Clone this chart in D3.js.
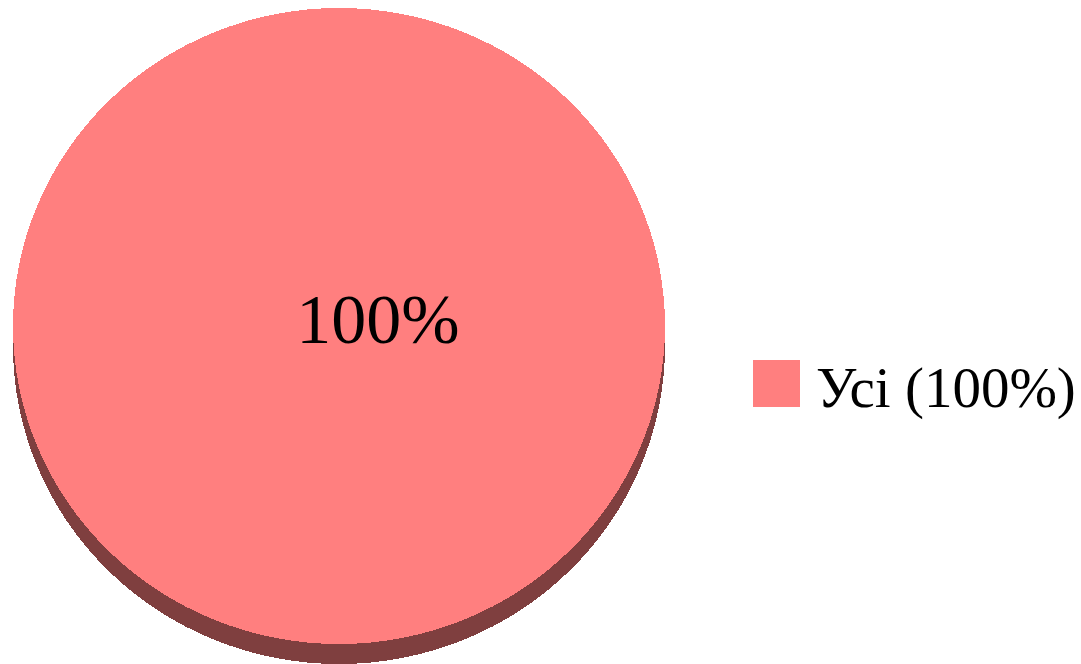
<!DOCTYPE html>
<html>
<head>
<meta charset="utf-8">
<script src="https://cdn.jsdelivr.net/npm/d3@7"></script>
<style>
    html, body { margin: 0; padding: 0; background: #fff; }
    svg { display: block; }
</style>
</head>
<body>
<div class="content"></div>
<script>
(function (window) {
    'use strict';
    var categories = ["Усі"],
        values = [100],
        colors = ["#ff7f7f"],
        sideColors = ["#7f3f3f"];

    var width = 1081, height = 664,
        opts = {
            cx: 339,
            cy: 326,
            rx: 326,
            ry: 318,
            depth: 20,
            font: "'Liberation Serif', 'Times New Roman', serif"
        };

    var total = d3.sum(values);
    var data = categories.map(function (c, i) {
        return {name: c, value: values[i], idx: i};
    });

    var svg = d3.select(".content").append("svg")
        .attr("width", width)
        .attr("height", height);

    var pie = d3.pie().value(function (d) { return d.value; }).sort(null);
    var arc = d3.arc().innerRadius(0).outerRadius(opts.rx);
    var slices = pie(data);
    var sy = opts.ry / opts.rx;

    // side of the disc, drawn first
    svg.append("g")
        .attr("transform", "translate(" + [opts.cx, opts.cy + opts.depth] + ") scale(1," + sy + ")")
        .selectAll("path")
        .data(slices)
        .enter().append("path")
        .attr("d", arc)
        .attr("fill", function (d) { return sideColors[d.data.idx]; })
        .attr("shape-rendering", "crispEdges");

    // top face
    svg.append("g")
        .attr("transform", "translate(" + [opts.cx, opts.cy] + ") scale(1," + sy + ")")
        .selectAll("path")
        .data(slices)
        .enter().append("path")
        .attr("d", arc)
        .attr("fill", function (d) { return colors[d.data.idx]; })
        .attr("shape-rendering", "crispEdges");

    // slice label
    var fmt = function (v) { return Math.round(v / total * 100) + "%"; };
    svg.selectAll("text.lbl")
        .data(slices)
        .enter().append("text")
        .attr("class", "lbl")
        .attr("x", opts.cx + 39)
        .attr("y", 343)
        .attr("text-anchor", "middle")
        .attr("font-family", opts.font)
        .attr("font-size", 70)
        .attr("fill", "#000")
        .text(function (d) { return fmt(d.data.value); });

    // legend
    var legend = svg.selectAll("g.legend")
        .data(data)
        .enter().append("g")
        .attr("class", "legend")
        .attr("transform", function (d, i) { return "translate(" + [753, 360 + i * 60] + ")"; });
    legend.append("rect")
        .attr("width", 47)
        .attr("height", 47)
        .attr("fill", function (d) { return colors[d.idx]; });
    legend.append("text")
        .attr("x", 63)
        .attr("y", 47)
        .attr("font-family", opts.font)
        .attr("font-size", 57)
        .attr("fill", "#000")
        .text(function (d) { return d.name + " (" + fmt(d.value) + ")"; });
}(window));
</script>
</body>
</html>
